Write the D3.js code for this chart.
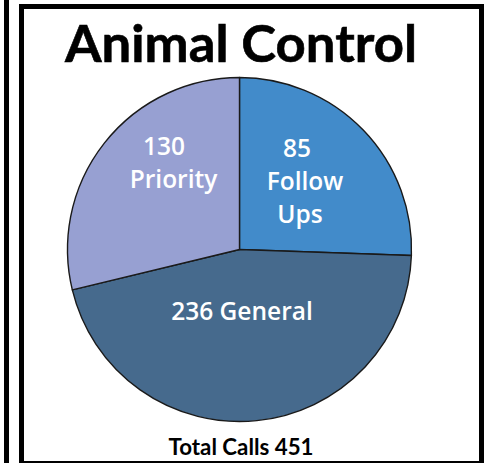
<!DOCTYPE html>
<html><head><meta charset="utf-8">
<script src="https://cdn.jsdelivr.net/npm/d3@7"></script>
<style>html,body{margin:0;padding:0;background:#fff;}svg{display:block;}</style>
</head><body>
<svg id="c" width="487" height="463"></svg>
<script>
// ---- data ----
const categories = ["Follow Ups", "General", "Priority"];
const callCounts = [85, 236, 130];
// slice sweep (degrees) as drawn in the reference picture
const sliceDegrees = [92, 164.4, 103.6];
const labelLines = [["85", "Follow", "Ups"], ["236 General"], ["130", "Priority"]];
const sliceColors = ["#428bca", "#466a8d", "#97a0d2"];
const titleText = "Animal Control";
const totalText = "Total Calls " + d3.sum(callCounts);

const svg = d3.select("#c");
const W = 487, H = 463;
const font = "'Open Sans', 'Noto Sans', sans-serif";
const titleFont = "Lato, 'Open Sans', sans-serif";

// left strip + frame
svg.append("rect").attr("x", 4).attr("y", 0).attr("width", 5).attr("height", H).attr("fill", "#000");
svg.append("rect").attr("x", 21.5).attr("y", 6.5).attr("width", 460).attr("height", 457)
  .attr("fill", "none").attr("stroke", "#000").attr("stroke-width", 5);

// title
svg.append("text").attr("x", 241).attr("y", 62).attr("text-anchor", "middle")
  .attr("font-family", titleFont).attr("font-weight", 700).attr("font-size", 52)
  .attr("textLength", 352).attr("lengthAdjust", "spacingAndGlyphs")
  .attr("stroke", "#000").attr("stroke-width", 0.6)
  .attr("fill", "#000").text(titleText);

// pie
const cx = 239.5, cy = 249.5, R = 172;
const data = categories.map((c, i) => ({ cat: c, count: callCounts[i], deg: sliceDegrees[i], i }));
const pie = d3.pie().sort(null).value(d => d.deg);
const arc = d3.arc().innerRadius(0).outerRadius(R);
const g = svg.append("g").attr("transform", `translate(${cx},${cy})`);
g.selectAll("path").data(pie(data)).join("path")
  .attr("d", arc).attr("fill", d => sliceColors[d.data.i])
  .attr("stroke", "#1a1a1a").attr("stroke-width", 1.4).attr("stroke-linejoin", "round");

// labels (line centers relative to pie centre)
const labelPos = [
  [[57.5, -92.5], [65.5, -59.5], [60.5, -26.5]],
  [[2.5, 70.5]],
  [[-75.5, -94.5], [-66, -61.5]]
];
data.forEach((d, i) => {
  labelLines[i].forEach((t, j) => {
    g.append("text").attr("x", labelPos[i][j][0]).attr("y", labelPos[i][j][1])
      .attr("text-anchor", "middle").attr("font-family", font).attr("font-weight", 600)
      .attr("font-size", 24.5).attr("fill", "#fff").text(t);
  });
});

// total
svg.append("text").attr("x", 241).attr("y", 455).attr("text-anchor", "middle")
  .attr("font-family", titleFont).attr("font-weight", 700).attr("font-size", 23)
  .attr("textLength", 145).attr("lengthAdjust", "spacingAndGlyphs")
  .attr("fill", "#000").text(totalText);
</script>
</body></html>
